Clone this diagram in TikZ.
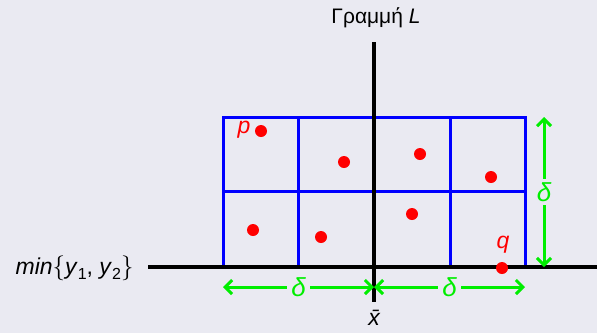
\documentclass[tikz,border=0pt]{standalone}
\usepackage{fontspec}
\setmainfont{Liberation Sans}
\usetikzlibrary{arrows.meta}
\definecolor{bg}{HTML}{EAEAF2}
\definecolor{gr}{HTML}{00EE00}
\tikzset{
  axis/.style={line width=3.2pt,black},
  cell/.style={line width=3pt,blue},
  pt/.style={circle,fill=red,inner sep=0pt,minimum size=12pt},
  dim/.style={line width=3pt,gr,{Straight Barb[length=7pt,width=14pt]}-{Straight Barb[length=7pt,width=14pt]}},
  dlab/.style={fill=bg,text=gr,font=\fontsize{26}{26}\selectfont\itshape,inner xsep=4pt,inner ysep=3pt},
  lab/.style={font=\fontsize{21}{21}\selectfont},
  rlab/.style={text=red,font=\fontsize{23}{23}\selectfont\itshape,inner sep=0pt}
}
\begin{document}
\begin{tikzpicture}[x=1pt,y=-1pt]
\fill[bg] (0,0) rectangle (597,333);
\useasboundingbox (0,0) rectangle (597,333);
% grid
\draw[cell] (223,117) rectangle (525,267);
\draw[cell] (223,191) -- (525,191);
\draw[cell] (298,117) -- (298,267);
\draw[cell] (450,117) -- (450,267);
% axes
\coordinate (hl) at (148,267);
\coordinate (hr) at (597,267);
\coordinate (vt) at (374,42);
\coordinate (vb) at (374,302);
\draw[axis] (hl) -- (hr);
\draw[axis] (vt) -- (vb);
\node[lab] (L) at (376,18) {Γραμμή \textit{L}};
\node[lab,font=\fontsize{23}{23}\selectfont,anchor=east] (mn) at (137,268) {\textit{min}$\Big\{$\textit{y}\raisebox{-0.25em}{\fontsize{16}{16}\selectfont 1}, \textit{y}\raisebox{-0.25em}{\fontsize{16}{16}\selectfont 2}$\Big\}$};
\node[lab,font=\fontsize{23}{23}\selectfont\itshape] (xb) at (374,318) {x̄};
% points
\node[pt] (p) at (261,131) {};
\node[rlab] (pl) at (244,130) {p};
\node[pt] at (344,162) {};
\node[pt] at (420,154) {};
\node[pt] at (491,177) {};
\node[pt] at (253,230) {};
\node[pt] at (321,237) {};
\node[pt] at (412,214) {};
\node[pt] (q) at (502,268) {};
\node[rlab] (ql) at (503,245) {q};
% dimensions
\coordinate (a1) at (223,287);
\coordinate (a2) at (374,287);
\coordinate (a3) at (525,287);
\draw[dim] (a1) -- node[dlab] {δ} (a2);
\draw[dim] (a2) -- node[dlab] {δ} (a3);
\coordinate (b1) at (544,117);
\coordinate (b2) at (544,267);
\draw[dim] (b1) -- node[dlab] {δ} (b2);
\end{tikzpicture}
\end{document}
